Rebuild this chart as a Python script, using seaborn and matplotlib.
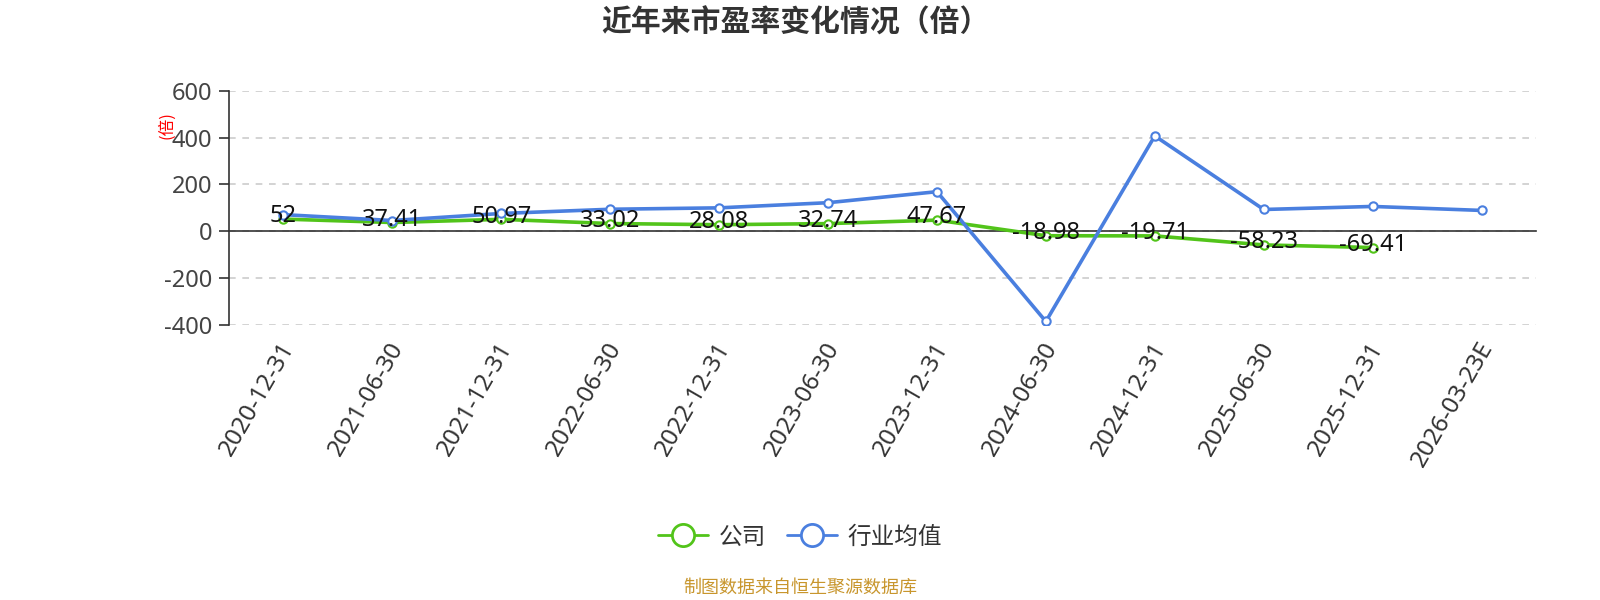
import matplotlib
matplotlib.use('Agg')
import matplotlib.pyplot as plt
import matplotlib.transforms as mtransforms
import seaborn as sns
import pandas as pd
import numpy as np
from matplotlib.lines import Line2D

categories = ['2020-12-31', '2021-06-30', '2021-12-31', '2022-06-30', '2022-12-31',
              '2023-06-30', '2023-12-31', '2024-06-30', '2024-12-31', '2025-06-30',
              '2025-12-31', '2026-03-23E']
company_pe = [52, 37.41, 50.97, 33.02, 28.08, 32.74, 47.67, -18.98, -19.71, -58.23, -69.41, np.nan]
company_labels = ['52', '37.41', '50.97', '33.02', '28.08', '32.74', '47.67',
                  '-18.98', '-19.71', '-58.23', '-69.41', '']
industry_pe = [71, 46, 76, 94, 100, 122, 169, -385, 407, 93, 106, 89]
y_ticks = [-400, -200, 0, 200, 400, 600]
series_names = ['公司', '行业均值']

GREEN = '#52c41a'
BLUE = '#4a7fdf'
NUM_FONT = ['Noto Sans', 'DejaVu Sans']

sns.set_style('white')
plt.rcParams['font.family'] = ['Noto Sans CJK SC', 'DejaVu Sans']
plt.rcParams['axes.unicode_minus'] = False

fig = plt.figure(figsize=(16, 6), dpi=100)
ax = fig.add_axes([229 / 1600, 1 - 325 / 600, 1307 / 1600, (325 - 90.7) / 600])

x = np.arange(len(categories))
df = pd.DataFrame({'x': x, 'company': company_pe, 'industry': industry_pe})

sns.lineplot(data=df, x='x', y='company', ax=ax, color=GREEN, linewidth=2.6,
             marker='o', markersize=6, markerfacecolor='white', markeredgecolor=GREEN,
             markeredgewidth=1.5, zorder=3)
sns.lineplot(data=df, x='x', y='industry', ax=ax, color=BLUE, linewidth=2.6,
             marker='o', markersize=6, markerfacecolor='white', markeredgecolor=BLUE,
             markeredgewidth=1.5, zorder=4)

for xi, v, lab in zip(x, company_pe, company_labels):
    if lab:
        ax.annotate(lab, (xi, v), xytext=(0, 2), textcoords='offset points',
                    ha='center', va='center', fontsize=17, color='#111', zorder=5,
                    family=NUM_FONT)

ax.set_xlim(-0.5, len(categories) - 0.5)
ax.set_ylim(-400, 600)
ax.set_yticks(y_ticks)
ax.set_xlabel('')
ax.set_ylabel('')

for s in ['top', 'right']:
    ax.spines[s].set_visible(False)
ax.spines['left'].set_color('#333')
ax.spines['left'].set_linewidth(1.2)
ax.spines['bottom'].set_position(('data', 0))
ax.spines['bottom'].set_color('#333')
ax.spines['bottom'].set_linewidth(1.2)
ax.spines['bottom'].set_zorder(2.5)

ax.set_xticks(x)
ax.set_xticklabels(categories)
ax.set_xticks(np.arange(-0.5, len(categories), 1.0), minor=True)
ax.tick_params(axis='x', which='major', length=0, pad=81, labelsize=17.5,
               labelcolor='#333', labelrotation=60)
ax.tick_params(axis='x', which='minor', length=7, width=1.2, color='#333', direction='out')
for lbl in ax.get_xticklabels():
    lbl.set_ha('right')
    lbl.set_va('center')
    lbl.set_rotation_mode('anchor')
    lbl.set_family(NUM_FONT)
    lbl.set_transform(lbl.get_transform() + mtransforms.ScaledTranslation(6 / 100, 0, fig.dpi_scale_trans))

ax.tick_params(axis='y', length=7, width=1.2, color='#333', pad=5, labelsize=17,
               labelcolor='#444', left=True)
for lbl in ax.get_yticklabels():
    lbl.set_family(NUM_FONT)
ax.yaxis.grid(True, linestyle=(0, (4, 4)), color='#cccccc', linewidth=1.2)
ax.xaxis.grid(False)
ax.set_axisbelow(True)

fig.text(167 / 1600, 1 - 125 / 600, '(倍)', rotation=90, color='red', fontsize=12,
         ha='center', va='center')

fig.text(795 / 1600, 1 - 22.5 / 600, '近年来市盈率变化情况（倍）', fontsize=21.5,
         fontweight='bold', color='#333', ha='center', va='center')

handles = [
    Line2D([0], [0], color=GREEN, lw=2, marker='o', markersize=16, markerfacecolor='white',
           markeredgecolor=GREEN, markeredgewidth=2),
    Line2D([0], [0], color=BLUE, lw=2, marker='o', markersize=16, markerfacecolor='white',
           markeredgecolor=BLUE, markeredgewidth=2),
]
fig.legend(handles, series_names, loc='center', bbox_to_anchor=(0.5, 1 - 537 / 600),
           ncol=2, frameon=False, fontsize=17, handlelength=2.1, handletextpad=0.45,
           columnspacing=0.9, labelcolor='#333')

fig.text(0.5, 1 - 588 / 600, '制图数据来自恒生聚源数据库', fontsize=13, color='#c8962d',
         ha='center', va='center')

fig.savefig('out.png', dpi=100)
